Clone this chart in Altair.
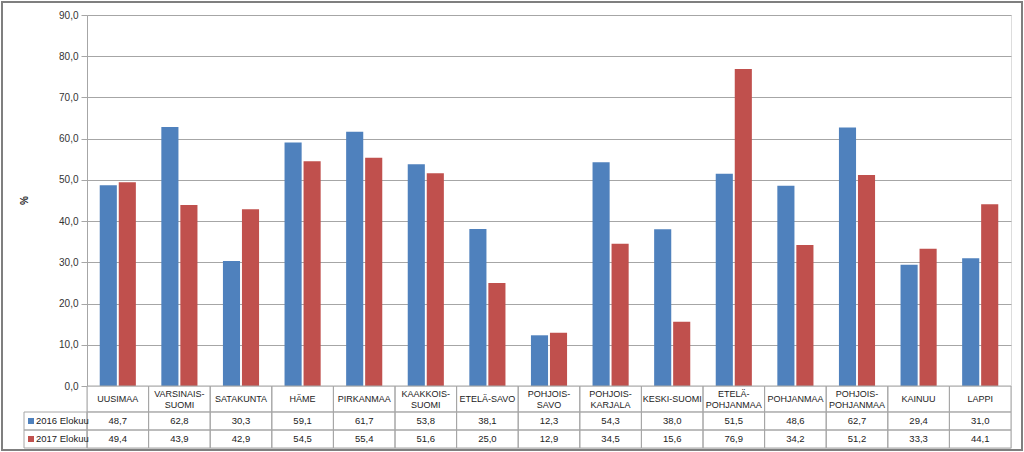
import altair as alt
import pandas as pd

categories = ["UUSIMAA", "VARSINAIS-SUOMI", "SATAKUNTA", "HÄME", "PIRKANMAA",
              "KAAKKOIS-SUOMI", "ETELÄ-SAVO", "POHJOIS-SAVO", "POHJOIS-KARJALA",
              "KESKI-SUOMI", "ETELÄ-POHJANMAA", "POHJANMAA", "POHJOIS-POHJANMAA",
              "KAINUU", "LAPPI"]
header_labels = ["UUSIMAA", "VARSINAIS-\nSUOMI", "SATAKUNTA", "HÄME", "PIRKANMAA",
                 "KAAKKOIS-\nSUOMI", "ETELÄ-SAVO", "POHJOIS-\nSAVO", "POHJOIS-\nKARJALA",
                 "KESKI-SUOMI", "ETELÄ-\nPOHJANMAA", "POHJANMAA", "POHJOIS-\nPOHJANMAA",
                 "KAINUU", "LAPPI"]
series = ["2016 Elokuu", "2017 Elokuu"]
values_2016 = [48.7, 62.8, 30.3, 59.1, 61.7, 53.8, 38.1, 12.3, 54.3, 38.0, 51.5, 48.6, 62.7, 29.4, 31.0]
values_2017 = [49.4, 43.9, 42.9, 54.5, 55.4, 51.6, 25.0, 12.9, 34.5, 15.6, 76.9, 34.2, 51.2, 33.3, 44.1]
y_ticks = [0, 10, 20, 30, 40, 50, 60, 70, 80, 90]

colors = ["#4F81BD", "#C0504D"]
FONT = "Liberation Sans"
GRID = "#A6A6A6"
W = 924

rows = []
for s, vals in zip(series, [values_2016, values_2017]):
    for c, v in zip(categories, vals):
        rows.append({"region": c, "year": s, "value": v,
                     "label": f"{v:.1f}".replace(".", ",")})
df = pd.DataFrame(rows)
hdr = pd.DataFrame({"region": categories, "label": header_labels})
legend_df = pd.DataFrame({"year": series})
frame_df = pd.DataFrame({"f": [0]})

xscale = alt.Scale(domain=categories, paddingInner=0, paddingOuter=0)
cscale = alt.Scale(domain=series, range=colors)

bars = alt.Chart(df).mark_bar().encode(
    x=alt.X("region:N", sort=categories, scale=xscale, axis=None),
    xOffset=alt.XOffset("year:N", sort=series,
                        scale=alt.Scale(paddingInner=0.1, paddingOuter=0.67)),
    y=alt.Y("value:Q", scale=alt.Scale(domain=[0, 90], nice=False),
            axis=alt.Axis(values=y_ticks, title="%", titleX=-58, titleY=185,
                          titleFontSize=10, titleFont=FONT, titleFontWeight="bold",
                          titleColor="#222",
                          labelExpr="replace(format(datum.value, '.1f'), '.', ',')",
                          labelFont=FONT, labelFontSize=10, labelColor="#333",
                          labelPadding=3, tickSize=6, tickColor=GRID,
                          domainColor=GRID, gridColor=GRID)),
    color=alt.Color("year:N", scale=cscale, legend=None),
)

frame = alt.Chart(frame_df).mark_rect(fillOpacity=0, stroke="#7F7F7F", strokeWidth=2).encode(
    x=alt.value(-85), x2=alt.value(935), y=alt.value(-13), y2=alt.value(435)
)

main = alt.layer(bars, frame).properties(width=W, height=371)

hx = alt.X("region:N", sort=categories, scale=xscale, axis=None)
hcells = alt.Chart(hdr).mark_rect(fillOpacity=0, stroke=GRID, strokeWidth=1).encode(
    x=hx, y=alt.value(0), y2=alt.value(26),
)
htext1 = alt.Chart(hdr).transform_filter(
    "indexof(datum.label, '\\n') < 0"
).mark_text(font=FONT, fontSize=9, color="#222", baseline="middle").encode(
    x=hx, y=alt.value(13), text="label:N",
)
htext2 = alt.Chart(hdr).transform_filter(
    "indexof(datum.label, '\\n') >= 0"
).mark_text(font=FONT, fontSize=9, color="#222", lineBreak="\n",
            baseline="middle", lineHeight=11).encode(
    x=hx, y=alt.value(7.5), text="label:N",
)
header = alt.layer(hcells, htext1, htext2).properties(width=W, height=26)

yrow = alt.Y("year:N", sort=series, axis=None, scale=alt.Scale(paddingInner=0, paddingOuter=0))
vcells = alt.Chart(df).mark_rect(fillOpacity=0, stroke=GRID, strokeWidth=1).encode(
    x=hx, y=yrow,
)
vtext = alt.Chart(df).mark_text(font=FONT, fontSize=9.5, color="#222").encode(
    x=hx, y=yrow, text="label:N",
)
lcells = alt.Chart(legend_df).mark_rect(fillOpacity=0, stroke=GRID, strokeWidth=1).encode(
    x=alt.value(-63), x2=alt.value(0), y=yrow,
)
lsq = alt.Chart(legend_df).mark_square(size=36, opacity=1).encode(
    x=alt.value(-56), y=yrow,
    color=alt.Color("year:N", scale=cscale, legend=None),
)
ltext = alt.Chart(legend_df).mark_text(font=FONT, fontSize=9.5, color="#222", align="left").encode(
    x=alt.value(-51), y=yrow, text="year:N",
)
values_tbl = alt.layer(vcells, vtext, lcells, lsq, ltext).properties(width=W, height=36)

chart = alt.vconcat(main, header, values_tbl, spacing=0, bounds="flush").properties(
    padding=0
).configure_view(stroke=None).configure(background="white")

chart.save("out.html", embed_options={"renderer": "svg", "actions": False})
